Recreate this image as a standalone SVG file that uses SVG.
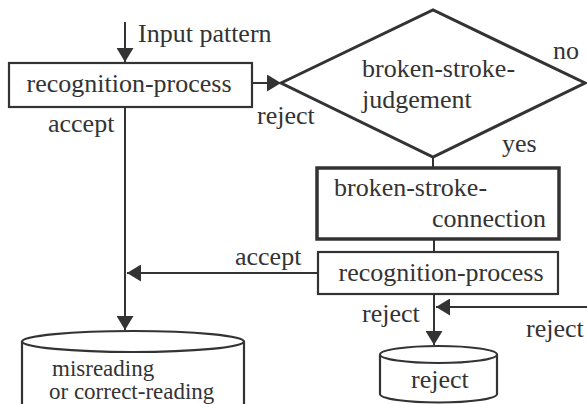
<svg xmlns="http://www.w3.org/2000/svg" width="587" height="404" viewBox="0 0 587 404">
<style>
text{font-family:"Liberation Serif","Times New Roman",serif;font-size:26px;fill:#333}
.sm{font-size:23px}
.ln{stroke:#333;stroke-width:2;fill:none}
.box{stroke:#333;stroke-width:2.2;fill:#fff}
.thick{stroke:#333;stroke-width:3.5;fill:#fff}
</style>
<defs>
<marker id="ah" markerWidth="17" markerHeight="17" viewBox="0 0 14 17" refX="14" refY="8.5" orient="auto" markerUnits="userSpaceOnUse">
<path d="M0,0 L14,8.5 L0,17 Z" fill="#333"/>
</marker>
</defs>
<rect width="587" height="404" fill="#fff"/>
<g id="connectors">
<line class="ln" x1="125" y1="22" x2="125" y2="62" marker-end="url(#ah)"/>
<line class="ln" x1="252" y1="83" x2="281" y2="83" marker-end="url(#ah)"/>
<line class="ln" x1="125" y1="107" x2="125" y2="330" marker-end="url(#ah)"/>
<line class="ln" x1="433" y1="157" x2="433" y2="168"/>
<line class="ln" x1="434" y1="239" x2="434" y2="252"/>
<line class="ln" x1="318" y1="273" x2="127" y2="273" marker-end="url(#ah)"/>
<line class="ln" x1="434" y1="294" x2="434" y2="345" marker-end="url(#ah)"/>
<line class="ln" x1="587" y1="307" x2="436" y2="307" marker-end="url(#ah)"/>
</g>
<g id="labels">
<text x="138" y="42">Input pattern</text>
<text x="48" y="132">accept</text>
<text x="257" y="124">reject</text>
<text x="553" y="59">no</text>
<text x="502" y="152">yes</text>
<text x="235" y="265">accept</text>
<text x="362" y="322">reject</text>
<text x="526" y="337">reject</text>
</g>
<g id="recog1">
<rect class="box" x="9" y="63" width="243" height="44"/>
<text x="129" y="92" text-anchor="middle">recognition-process</text>
</g>
<g id="judgement">
<polygon points="281,83 433,10 585,83 433,157" fill="#fff" stroke="#333" stroke-width="3"/>
<text x="362" y="77">broken-stroke-</text>
<text x="362" y="108">judgement</text>
</g>
<g id="connection">
<rect class="thick" x="317" y="168" width="242" height="71"/>
<text x="334" y="196">broken-stroke-</text>
<text x="546" y="227" text-anchor="end">connection</text>
</g>
<g id="recog2">
<rect class="box" x="318" y="252" width="240" height="42"/>
<text x="441" y="281" text-anchor="middle">recognition-process</text>
</g>
<g id="store-result">
<path class="box" d="M22,341.5 L22,410 M244,341.5 L244,410"/>
<ellipse class="box" cx="133" cy="341.5" rx="111" ry="10.5"/>
<text class="sm" x="52" y="376">misreading</text>
<text class="sm" x="49" y="399">or correct-reading</text>
</g>
<g id="store-reject">
<path class="box" d="M380,354.5 L380,394 A58.5,8.5 0 0 0 497,394 L497,354.5"/>
<ellipse class="box" cx="438.5" cy="354.5" rx="58.5" ry="8.5"/>
<text x="411" y="388">reject</text>
</g>
</svg>
